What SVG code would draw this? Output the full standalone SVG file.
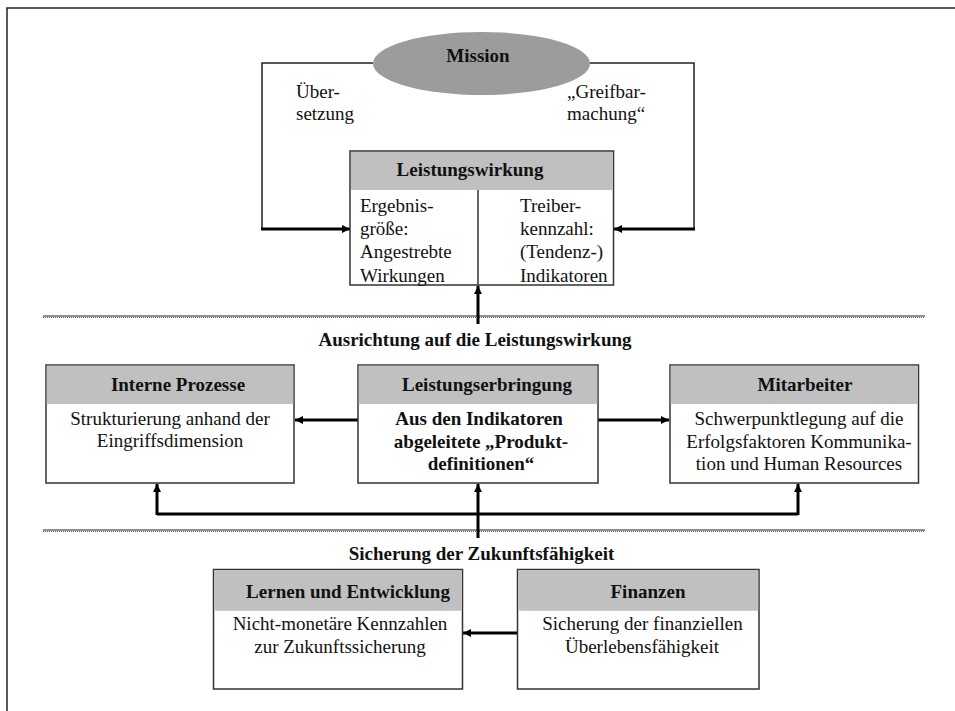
<svg xmlns="http://www.w3.org/2000/svg" width="955" height="711" viewBox="0 0 955 711" font-family="'Liberation Serif', 'Times New Roman', 'DejaVu Serif', serif">
<defs>
<marker id="ah" markerUnits="userSpaceOnUse" markerWidth="10" markerHeight="10" refX="8" refY="5" orient="auto">
<path d="M0,1 L8,5 L0,9 Z" fill="#000"/>
</marker>
<style>
text{font-size:19px;fill:#111}
.b{font-weight:bold}
.m{text-anchor:middle}
.box{fill:#fff;stroke:#333;stroke-width:1.5}
.hdr{fill:#c0c0c0}
.thin{fill:none;stroke:#222;stroke-width:1.5}
.thick{fill:none;stroke:#000;stroke-width:3;marker-end:url(#ah)}
.bus{fill:none;stroke:#000;stroke-width:3}
.div1{stroke:#222;stroke-width:1}
.div2{stroke:#666;stroke-width:1;stroke-dasharray:1 1}
</style>
</defs>
<rect x="0" y="0" width="955" height="711" fill="#fff"/>
<rect x="7" y="8" width="1000" height="800" fill="none" stroke="#222" stroke-width="1.5"/>

<g id="dividers">
<line class="div1" x1="43" y1="316" x2="925" y2="316"/>
<line class="div2" x1="43" y1="317.5" x2="925" y2="317.5"/>
<line class="div1" x1="43" y1="530" x2="925" y2="530"/>
<line class="div2" x1="43" y1="531.5" x2="925" y2="531.5"/>
</g>

<g id="connectors">
<path class="thin" d="M373,63 H262 V229"/>
<path class="thick" d="M261,229 H350"/>
<path class="thin" d="M590,63 H694 V229"/>
<path class="thick" d="M695,229 H614"/>
<path class="thick" d="M478,324 V286"/>
<path class="thick" d="M358,420 H295"/>
<path class="thick" d="M598,420 H669"/>
<path class="bus" d="M157,514 H798"/>
<path class="thick" d="M157,515 V484"/>
<path class="thick" d="M798,515 V484"/>
<path class="thick" d="M478,538 V484"/>
<path class="thick" d="M517,633 H463"/>
</g>

<g id="mission">
<ellipse cx="481.5" cy="63.5" rx="108.5" ry="31.5" fill="#9c9c9c"/>
<text class="b m" x="478" y="62">Mission</text>
</g>

<g id="label-uebersetzung">
<text x="296" y="98">Über-</text>
<text x="296" y="120">setzung</text>
</g>
<g id="label-greifbar">
<text x="567" y="98">„Greifbar-</text>
<text x="567" y="120">machung“</text>
</g>

<g id="leistungswirkung">
<rect class="box" x="350" y="151" width="263.5" height="134"/>
<rect class="hdr" x="351" y="152" width="261.5" height="38"/>
<line x1="478" y1="190" x2="478" y2="285" stroke="#333" stroke-width="1.5"/>
<text class="b m" x="470" y="176">Leistungswirkung</text>
<text x="360" y="212">Ergebnis-</text>
<text x="360" y="235">größe:</text>
<text x="360" y="258">Angestrebte</text>
<text x="360" y="282">Wirkungen</text>
<text x="520" y="212">Treiber-</text>
<text x="520" y="235">kennzahl:</text>
<text x="520" y="258">(Tendenz-)</text>
<text x="520" y="282">Indikatoren</text>
</g>

<g id="heading-ausrichtung">
<text class="b m" x="475" y="346">Ausrichtung auf die Leistungswirkung</text>
</g>

<g id="interne-prozesse">
<rect class="box" x="46" y="365" width="248" height="118"/>
<rect class="hdr" x="46.75" y="365.75" width="246.5" height="38.25"/>
<text class="b m" x="178" y="391">Interne Prozesse</text>
<text class="m" x="170" y="425">Strukturierung anhand der</text>
<text class="m" x="170" y="447">Eingriffsdimension</text>
</g>

<g id="leistungserbringung">
<rect class="box" x="358" y="365" width="240" height="118"/>
<rect class="hdr" x="358.75" y="365.75" width="238.5" height="38.25"/>
<text class="b m" x="487" y="391">Leistungserbringung</text>
<text class="b m" x="479" y="425">Aus den Indikatoren</text>
<text class="b m" x="481" y="447.5">abgeleitete „Produkt-</text>
<text class="b m" x="481" y="470">definitionen“</text>
</g>

<g id="mitarbeiter">
<rect class="box" x="670" y="365" width="248.5" height="118"/>
<rect class="hdr" x="670.75" y="365.75" width="247" height="38.25"/>
<text class="b m" x="805" y="391">Mitarbeiter</text>
<text class="m" x="799" y="425">Schwerpunktlegung auf die</text>
<text class="m" x="799" y="447.5">Erfolgsfaktoren Kommunika-</text>
<text class="m" x="799" y="470">tion und Human Resources</text>
</g>

<g id="heading-sicherung">
<text class="b m" x="481.5" y="560">Sicherung der Zukunftsfähigkeit</text>
</g>

<g id="lernen">
<rect class="box" x="213.5" y="569.5" width="249" height="119.5"/>
<rect class="hdr" x="214.25" y="570.25" width="247.5" height="40.5"/>
<text class="b m" x="348" y="597.5">Lernen und Entwicklung</text>
<text class="m" x="340" y="630">Nicht-monetäre Kennzahlen</text>
<text class="m" x="340" y="653">zur Zukunftssicherung</text>
</g>

<g id="finanzen">
<rect class="box" x="517.5" y="569.5" width="241.5" height="119.5"/>
<rect class="hdr" x="518.25" y="570.25" width="240" height="40.5"/>
<text class="b m" x="648" y="597.5">Finanzen</text>
<text class="m" x="642.5" y="630">Sicherung der finanziellen</text>
<text class="m" x="642" y="653">Überlebensfähigkeit</text>
</g>
</svg>
